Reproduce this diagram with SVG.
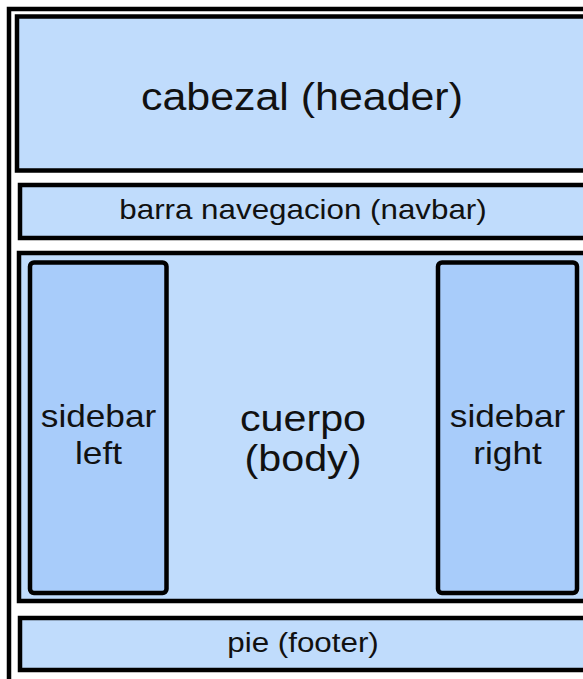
<svg xmlns="http://www.w3.org/2000/svg" width="583" height="679" viewBox="0 0 583 679">
  <style>
    .box { fill: #C0DCFC; stroke: #000; stroke-width: 4.5; }
    .side { fill: #A8CCFA; stroke: #000; stroke-width: 4.5; }
    .frame { fill: #FFFFFF; stroke: #000; stroke-width: 4.5; }
    .lbl { font-family: "Liberation Sans", Arial, Helvetica, sans-serif; fill: #111; text-anchor: middle; }
  </style>
  <rect x="0" y="0" width="583" height="679" fill="#FFFFFF"/>
  <g id="frame">
    <rect class="frame" x="9" y="9" width="600" height="700"/>
  </g>
  <g id="header">
    <rect class="box" x="17" y="16.5" width="580" height="154"/>
    <text class="lbl" font-size="39" transform="translate(302,110) scale(1.1,1)">cabezal (header)</text>
  </g>
  <g id="navbar">
    <rect class="box" x="20" y="185" width="580" height="53"/>
    <text class="lbl" font-size="28.5" transform="translate(303,219) scale(1.1,1)">barra navegacion (navbar)</text>
  </g>
  <g id="body">
    <rect class="box" x="19" y="253" width="580" height="348"/>
    <text class="lbl" font-size="37.5" transform="translate(303,431) scale(1.1,1)">cuerpo</text>
    <text class="lbl" font-size="37.5" transform="translate(303,471) scale(1.1,1)">(body)</text>
  </g>
  <g id="sidebar-left">
    <rect class="side" x="30" y="262.5" width="136.5" height="330.5" rx="4"/>
    <text class="lbl" font-size="32" transform="translate(98.5,427) scale(1.1,1)">sidebar</text>
    <text class="lbl" font-size="32" transform="translate(98.5,464) scale(1.1,1)">left</text>
  </g>
  <g id="sidebar-right">
    <rect class="side" x="438" y="262.5" width="139" height="330.5" rx="4"/>
    <text class="lbl" font-size="32" transform="translate(507.5,427) scale(1.1,1)">sidebar</text>
    <text class="lbl" font-size="32" transform="translate(507.5,464) scale(1.1,1)">right</text>
  </g>
  <g id="footer">
    <rect class="box" x="20" y="618" width="580" height="52"/>
    <text class="lbl" font-size="28.5" transform="translate(303,652) scale(1.1,1)">pie (footer)</text>
  </g>
  <g id="connectors"/>
</svg>
